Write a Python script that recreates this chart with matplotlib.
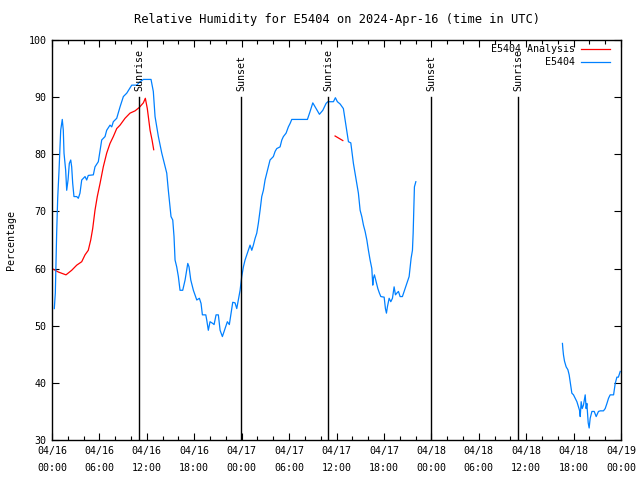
import numpy as np
import matplotlib.pyplot as plt

plt.rcParams['font.family'] = 'DejaVu Sans Mono'
plt.rcParams['font.size'] = 7.2

nan = np.nan

# hours after 2024-04-16 00:00 UTC, nan marks a gap in the record
obs_hours = [0.29, 0.42, 0.59, 0.72, 0.89, 1.10, 1.30, 1.43, 1.52, 1.73, 1.86, 2.03, 2.19, 2.37,
             2.49, 2.62, 2.78, 3.13, 3.33, 3.54, 3.76, 4.18, 4.39, 4.59, 5.23, 5.44, 5.86, 6.29,
             6.71, 6.92, 7.34, 7.56, 7.76, 8.19, 8.61, 9.03, 9.46, 10.09, 10.72, 11.14, 11.56,
             12.53, 12.82, 13.04, 13.46, 13.89, 14.52, 14.72, 15.06, 15.28, 15.44, 15.57, 15.78,
             15.99, 16.20, 16.54, 16.84, 17.18, 17.34, 17.56, 17.89, 18.32, 18.65, 18.86, 19.03,
             19.46, 19.58, 19.78, 20.00, 20.34, 20.51, 20.76, 21.05, 21.27, 21.56, 21.90, 22.19,
             22.44, 22.75, 22.87, 23.16, 23.38, 23.58, 23.80, 24.01, 24.22, 24.43, 24.65, 24.85,
             25.06, 25.28, 25.48, 25.70, 25.91, 26.11, 26.33, 26.54, 26.75, 26.96, 27.18, 27.38,
             27.59, 27.81, 28.01, 28.23, 28.44, 28.86, 29.08, 29.28, 29.62, 29.91, 30.13, 30.34,
             32.32, 32.66, 33.00, 33.42, 33.84, 34.27, 34.68, 34.90, 35.61, 35.86, 36.11, 36.46,
             36.87, 37.09, 37.30, 37.51, 37.81, 38.14, 38.35, 38.57, 38.77, 38.99, 39.20, 39.41,
             39.62, 39.84, 40.04, 40.25, 40.47, 40.59, 40.67, 40.80, 41.01, 41.23, 41.43, 41.61,
             42.03, 42.19, 42.32, 42.44, 42.66, 42.87, 43.08, 43.29, 43.46, 43.63, 43.84, 44.05,
             44.34, 44.56, 44.77, 44.97, 45.19, 45.32, 45.44, 45.61, 45.70, 45.78, 45.86, 46.04,
             nan,
             64.59, 64.64, 64.72, 64.85, 65.06, 65.28, 65.44, 65.57, 65.78, 65.99, 66.20, 66.42,
             66.62, 66.75, 66.84, 66.96, 67.09, 67.25, 67.47, 67.59, 67.68, 67.85, 67.97, 68.10,
             68.32, 68.61, 68.86, 69.15, 69.37, 69.78, 70.00, 70.22, 70.42, 70.63, 71.06, 71.27,
             71.48, 71.67, 71.90]
obs_rh = [53.0, 55.7, 66.2, 72.3, 77.2, 84.2, 86.1, 84.2, 80.2, 77.2, 73.7, 75.5, 78.4, 79.0,
          77.8, 74.9, 72.6, 72.6, 72.3, 73.2, 75.5, 76.1, 75.5, 76.3, 76.4, 77.8, 78.7, 82.5,
          83.1, 84.2, 85.1, 84.8, 85.7, 86.3, 88.3, 90.1, 90.7, 92.1, 92.1, 92.7, 93.1,
          93.1, 91.0, 86.6, 83.1, 80.2, 76.7, 73.7, 69.1, 68.5, 65.6, 61.5, 60.3,
          58.6, 56.2, 56.2, 58.0, 60.9, 60.3, 58.0, 56.2, 54.5, 54.8, 53.9, 51.9,
          51.9, 51.0, 49.2, 50.7, 50.4, 50.2, 51.9, 51.9, 49.2, 48.1, 49.5, 50.7,
          50.2, 53.0, 54.1, 54.0, 53.0, 54.5, 56.2, 58.6, 60.3, 61.5, 62.4, 63.2,
          64.1, 63.2, 64.1, 65.3, 66.2, 67.9, 70.2, 72.6, 73.7, 75.5, 76.7, 77.8,
          79.0, 79.3, 79.6, 80.5, 81.0, 81.3, 82.5, 83.1, 83.7, 84.8, 85.4, 86.1,
          86.1, 87.5, 89.0, 88.0, 87.0, 87.7, 88.9, 89.2, 89.2, 89.9, 89.2, 88.8,
          88.0, 86.0, 84.2, 82.2, 82.0, 78.4, 76.7, 74.9, 73.2, 70.2, 69.1, 67.6,
          66.5, 65.0, 63.2, 61.5, 60.0, 57.1, 58.3, 58.9, 57.7, 56.5, 55.7, 55.1,
          55.0, 53.0, 52.2, 53.3, 54.8, 54.2, 54.8, 56.8, 55.4, 55.7, 56.0, 55.1,
          55.1, 56.0, 56.8, 57.7, 58.6, 60.3, 61.8, 63.2, 66.2, 70.5, 74.3, 75.2,
          nan,
          46.9, 46.0, 44.9, 43.8, 42.8, 42.3, 41.4, 40.2, 38.2, 37.9, 37.3, 36.7,
          35.8, 35.2, 34.1, 36.7, 35.5, 36.1, 37.9, 35.5, 36.4, 33.0, 32.1, 33.8,
          35.0, 35.0, 34.1, 35.0, 35.1, 35.1, 35.5, 36.4, 37.3, 37.9, 37.9, 39.9,
          41.0, 41.0, 42.0]

ana_hours = [0.0, 0.80, 1.77, 2.49, 3.13, 3.76, 4.18, 4.59, 4.90, 5.15, 5.44, 5.73, 6.08, 6.49,
             6.92, 7.34, 7.76, 8.19, 8.61, 9.24, 9.87, 10.51, 11.05, 11.56, 11.81, 12.06, 12.41,
             12.66, 12.87, nan, 35.82, 36.80]
ana_rh = [60.0, 59.4, 58.9, 59.7, 60.6, 61.2, 62.4, 63.2, 65.0, 67.0, 70.2, 72.6, 74.9, 77.8,
          80.2, 81.9, 83.1, 84.5, 85.1, 86.3, 87.2, 87.6, 88.2, 89.0, 89.8, 88.0, 84.2,
          82.5, 80.8, nan, 83.2, 82.4]

sun_hours = [11.0, 23.92, 34.93, 47.97, 58.98]
sun_labels = ['Sunrise', 'Sunset', 'Sunrise', 'Sunset', 'Sunrise']

xtick_hours = list(range(0, 73, 6))
xtick_labels = ['04/16\n00:00', '04/16\n06:00', '04/16\n12:00', '04/16\n18:00',
                '04/17\n00:00', '04/17\n06:00', '04/17\n12:00', '04/17\n18:00',
                '04/18\n00:00', '04/18\n06:00', '04/18\n12:00', '04/18\n18:00',
                '04/19\n00:00']

red = '#ff0000'
blue = '#0080ff'

fig = plt.figure(figsize=(6.4, 4.8), dpi=100)
ax = fig.add_axes([52 / 640, 40 / 480, 569 / 640, 400 / 480])

ax.plot(ana_hours, ana_rh, color=red, lw=0.9)
ax.plot(obs_hours, obs_rh, color=blue, lw=0.9)

# sunrise / sunset markers
for h, lab in zip(sun_hours, sun_labels):
    ax.plot([h, h], [30, 90], color='black', lw=1.0)
    ax.text(h, 91, lab, rotation=90, ha='center', va='bottom')

ax.set_xlim(0, 72)
ax.set_ylim(30, 100)
ax.set_xticks(xtick_hours)
ax.set_xticklabels(xtick_labels, linespacing=1.9)
ax.set_xticks(np.arange(0, 73, 2), minor=True)
ax.set_yticks(np.arange(30, 101, 10))
ax.tick_params(which='both', direction='in', top=True, right=True, width=0.8)
ax.tick_params(which='major', length=5, pad=4)
ax.tick_params(which='minor', length=3)
for s in ax.spines.values():
    s.set_linewidth(1.0)

ax.set_ylabel('Percentage', labelpad=9)
ax.set_title('Relative Humidity for E5404 on 2024-Apr-16 (time in UTC)', pad=12)

# gnuplot style key: right aligned text, sample line after it
for ypos, lab, col in [(0.9775, 'E5404 Analysis', red), (0.945, 'E5404', blue)]:
    ax.text(0.919, ypos, lab, transform=ax.transAxes, ha='right', va='center')
    ax.plot([0.930, 0.981], [ypos, ypos], transform=ax.transAxes, color=col, lw=0.9)

fig.savefig('out.png', dpi=100)
